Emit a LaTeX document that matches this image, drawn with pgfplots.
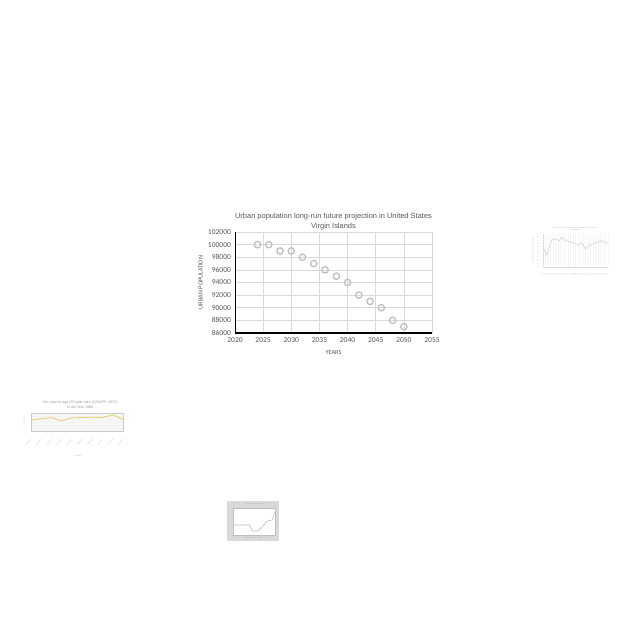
\documentclass[border=0pt]{standalone}
\usepackage{pgfplots}
\pgfplotsset{compat=1.18}
\usepackage{fontspec}
\setmainfont{Liberation Sans}
\newfontfamily\calib{Carlito}
\definecolor{txt}{HTML}{595959}
\definecolor{grd}{HTML}{D9D9D9}
\definecolor{mk}{HTML}{BFBFBF}
\definecolor{yel}{HTML}{EACB6A}
\begin{document}
\begin{tikzpicture}
\path[fill=white] (0,0) rectangle (640bp,-640bp);
% main chart
\begin{axis}[
  at={(235bp,-333bp)}, anchor=south west,
  scale only axis, width=197bp, height=101bp,
  xmin=2020, xmax=2055, ymin=86000, ymax=102000,
  xtick={2020,2025,...,2055}, ytick={86000,88000,...,102000},
  /pgf/number format/fixed, /pgf/number format/precision=0,
  /pgf/number format/1000 sep={},
  scaled y ticks=false, scaled x ticks=false,
  grid=major, major grid style={grd, line width=0.6bp},
  axis x line*=bottom, axis y line*=left,
  x axis line style={black, line width=1.4bp, -},
  y axis line style={black, line width=0.9bp, -},
  major tick length=0pt,
  tick label style={font=\calib\fontsize{7.6}{8}\selectfont, text=txt},
  /pgf/number format/assume math mode=true,
  xticklabel style={yshift=-1.5bp},
  yticklabel style={xshift=-0.5bp},
  xlabel={YEARS}, ylabel={URBAN POPULATION},
  label style={font=\calib\fontsize{6.3}{7}\selectfont, text=txt},
  xlabel style={yshift=-1bp},
  ylabel style={yshift=-1.5bp},
  title={Urban population long-run future projection in United States\\Virgin Islands},
  title style={font=\fontsize{7.5}{10}\selectfont, text=txt, align=center, yshift=-7.5bp},
]
\addplot[only marks, mark=o, mark size=3.2bp, mark options={draw=mk, line width=1.3bp, fill=white}]
coordinates {(2024,100000)(2026,100000)(2028,99000)(2030,99000)(2032,98000)(2034,97000)(2036,96000)(2038,95000)(2040,94000)(2042,92000)(2044,91000)(2046,90000)(2048,88000)(2050,87000)};
\end{axis}
% right thumbnail
\node[font=\fontsize{1.6}{2}\selectfont, text=gray!60, align=center] at (575bp,-229bp) {Share of the total population living in urban areas, United States\\Virgin Islands};
\begin{axis}[
  at={(543bp,-267bp)}, anchor=south west,
  scale only axis, width=65bp, height=33bp,
  xmin=0, xmax=26, ymin=0, ymax=100,
  xtick={0,1,...,26}, ytick={0,10,...,100},
  xticklabels={}, yticklabels={},
  xmajorgrids, major grid style={gray!8, line width=0.3bp},
  axis x line*=bottom, axis y line*=left,
  axis line style={gray!25, line width=0.3bp, -},
  major tick length=0pt,
]
\addplot[gray!35, line width=0.6bp] coordinates {(0,60)(1.5,35)(3.5,82)(5,85)(6.5,80)(7.5,90)(8.5,82)(10,78)(12,73)(14,68)(15.5,72)(17,55)(18.5,65)(20,70)(22,75)(23.5,80)(25,74)(26,72)};
\end{axis}
\foreach \i in {0,...,10} {
  \node[font=\fontsize{1.5}{1.5}\selectfont, text=gray!50, anchor=east] at (542.5bp,{(-267+\i*3.3)*1bp}) {\i0};
}
\foreach \i in {0,...,26} {
  \node[font=\fontsize{1.4}{1.5}\selectfont, text=gray!50, rotate=45, anchor=north east] at ({(543+\i*2.5)*1bp},-268bp) {19\i};
}
\node[font=\fontsize{1.5}{2}\selectfont, text=gray!50, rotate=90] at (533bp,-250bp) {Urban population (\% of total population)};
\node[font=\fontsize{1.5}{2}\selectfont, text=gray!50] at (575bp,-274bp) {Year};
% left thumbnail
\node[font=\fontsize{3.6}{4.6}\selectfont, text=gray!80, align=center] at (80bp,-405bp) {Sex ratio by age (50 year olds) (UNWPP, 2017)\\in the Year 1980};
\begin{axis}[
  at={(31bp,-431bp)}, anchor=south west,
  scale only axis, width=92bp, height=18bp,
  xmin=0, xmax=9, ymin=0, ymax=120,
  xtick={0,1,...,9}, ytick={0,20,...,120},
  xticklabels={}, yticklabels={},
  axis background/.style={fill=gray!6},
  grid=major, major grid style={gray!10, line width=0.3bp},
  axis line style={gray!40, line width=0.3bp},
  major tick length=0pt,
]
\addplot[yel, line width=0.8bp] coordinates {(0,72)(1,82)(2,90)(3,68)(4,88)(5,90)(6,92)(7,90)(8,108)(9,78)};
\end{axis}
\foreach \i in {0,...,9} {
  \node[font=\fontsize{1.8}{2}\selectfont, text=gray!60, rotate=45, anchor=north east] at ({(31+\i*10.2)*1bp},-434bp) {Country \i};
}
\node[font=\fontsize{1.8}{2}\selectfont, text=gray!60, rotate=90] at (24bp,-422bp) {Sex ratio};
\node[font=\fontsize{1.8}{2}\selectfont, text=gray!60] at (78bp,-456bp) {Countries};
% bottom thumbnail
\path[fill=gray!30] (227bp,-501bp) rectangle (279bp,-541bp);
\node[font=\fontsize{1.6}{2}\selectfont, text=gray!70] at (253bp,-504.5bp) {Urban population over time};
\begin{axis}[
  at={(233bp,-535bp)}, anchor=south west,
  scale only axis, width=42bp, height=27bp,
  xmin=0, xmax=42, ymin=0, ymax=27,
  xtick=\empty, ytick=\empty,
  axis background/.style={fill=white},
  axis line style={gray!50, line width=0.3bp},
]
\addplot[gray!55, line width=0.6bp] coordinates {(0,10)(17,10)(19,4)(25,4)(30,9)(34,14)(39,15)(42,23)};
\end{axis}
\node[font=\fontsize{1.6}{2}\selectfont, text=gray!70] at (253bp,-538bp) {Year (Source: UN, 2018)};
\end{tikzpicture}
\end{document}
